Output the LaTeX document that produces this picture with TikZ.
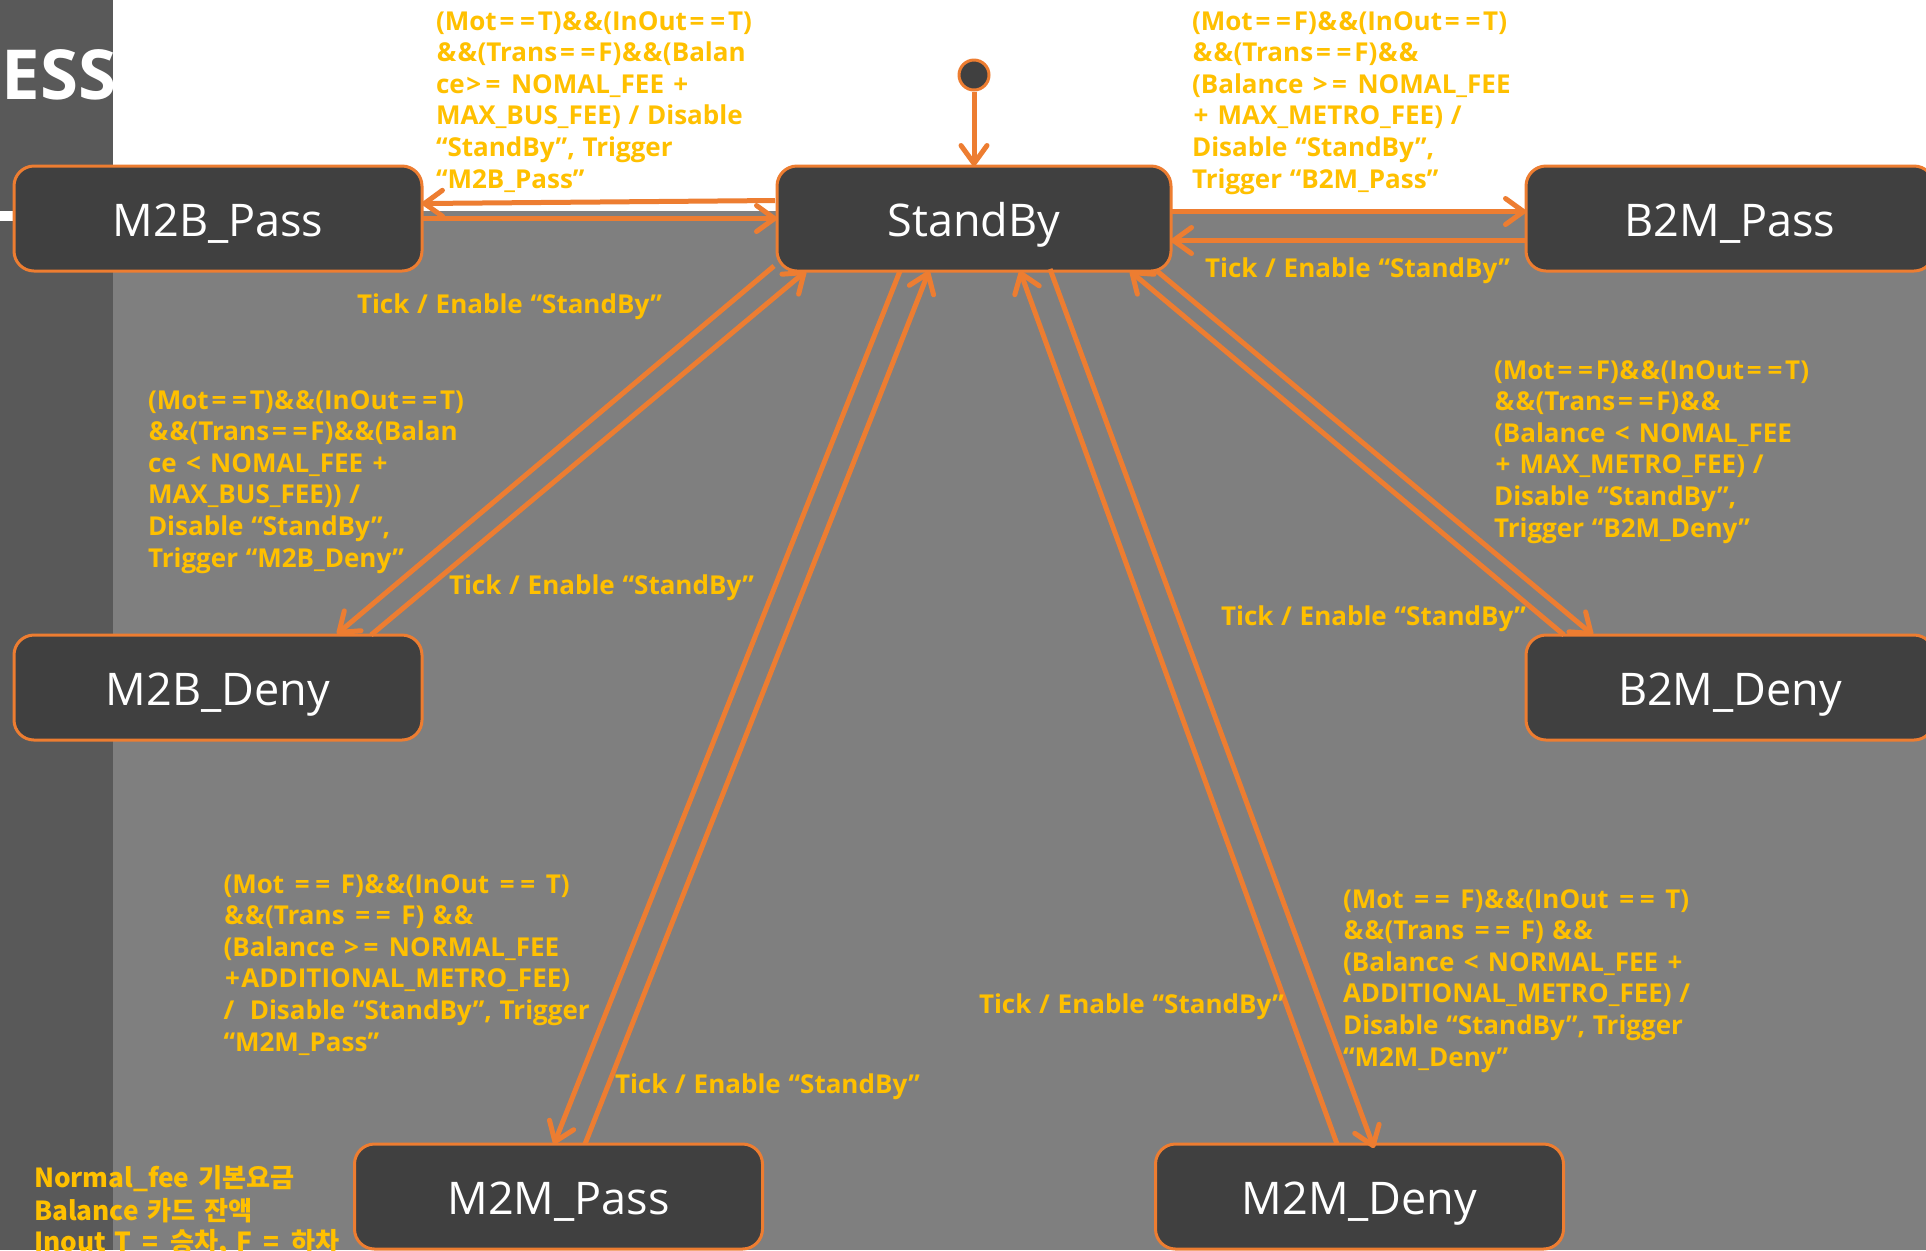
\documentclass[tikz,border=0pt]{standalone}
\usepackage{fontspec}
\setmainfont{Open Sans}
\newfontfamily\lblfont{Open Sans}[WordSpace=1.15]
\newfontfamily\krfont{Noto Sans CJK KR}[WordSpace=1.45]
\usetikzlibrary{arrows.meta,calc}
\definecolor{bggray}{HTML}{7F7F7F}
\definecolor{stripgray}{HTML}{595959}
\definecolor{boxfill}{HTML}{404040}
\definecolor{orng}{HTML}{ED7D31}
\definecolor{ylw}{HTML}{FFC000}
\newcommand\eq{\kern0.11em=\kern0.11em}
\newcommand\am{\kern0.03em\&\kern0.02em}
\newcommand\gtr{\kern0.06em>\kern0.06em}
\newcommand\lsr{\kern0.06em<\kern0.06em}
\newcommand\pls{\kern0.06em+\kern0.06em}
\begin{document}
\begin{tikzpicture}[x=0.5pt,y=-0.5pt,
  state/.style={draw=orng, fill=boxfill, line width=1.5pt, rounded corners=10pt,
    minimum width=204pt, minimum height=52.5pt, inner sep=0pt, outer sep=0pt,
    text=white, font=\fontsize{22.5}{26}\selectfont, text height=17.8pt, text depth=0pt},
  trans/.style={draw=orng, line width=2.5pt, -{Straight Barb[length=9pt,width=13pt,round]}},
  lbl/.style={text=ylw, font=\lblfont\fontsize{13}{15.8}\selectfont\bfseries, align=left,
    anchor=north west, inner sep=0pt, outer sep=0pt},
]
% backgrounds
\fill[white] (0,0) rectangle (1926,1250);
\fill[bggray] (113,211) rectangle (1926,1250);
\fill[stripgray] (0,0) rectangle (113,1250);
\fill[white] (0,211) rectangle (20,221);
\useasboundingbox (0,0) rectangle (1926,1250);

\node[text=white, font=\fontsize{34.5}{40}\selectfont\bfseries, anchor=base west, inner sep=0pt] (title) at (1,99) {ESS};

% states
\node[state] (m2bp) at (218,218.5) {M2B\_Pass};
\node[state, minimum width=197pt] (sb) at (974,218.5) {StandBy};
\node[state] (b2mp) at (1730,218.5) {B2M\_Pass};
\node[state] (m2bd) at (218,687.5) {M2B\_Deny};
\node[state] (b2md) at (1730,687.5) {B2M\_Deny};
\node[state] (m2mp) at (558.5,1196.5) {M2M\_Pass};
\node[state] (m2md) at (1359.5,1196.5) {M2M\_Deny};
\node[circle, draw=orng, fill=boxfill, line width=1.5pt, minimum size=15pt, inner sep=0pt] (init) at (974,75) {};

% connectors
\draw[trans] (init) -- (sb);
\draw[trans] ($(sb.west)+(-2,-18)$) -- ($(m2bp.east)+(0,-15)$);
\draw[trans] (m2bp.east) -- (sb.west);
\draw[trans] ($(sb.east)+(0,-7)$) -- ($(b2mp.west)+(0,-7)$);
\draw[trans] ($(b2mp.west)+(0,22)$) -- ($(sb.east)+(0,22)$);
\draw[trans] ($(sb.south)+(-200,-5)$) -- ($(m2bd.north)+(119,-1)$);
\draw[trans] ($(m2bd.north)+(153,0)$) -- ($(sb.south)+(-168,0)$);
\draw[trans] ($(sb.south)+(-74,0)$) -- ($(m2mp.north)+(-4.5,0)$);
\draw[trans] ($(m2mp.north)+(26.5,0)$) -- ($(sb.south)+(-45,0)$);
\draw[trans] ($(m2md.north)+(-22.5,0)$) -- ($(sb.south)+(46,0)$);
\draw[trans] ($(sb.south)+(76,-2)$) -- ($(m2md.north)+(14.5,4)$);
\draw[trans] ($(b2md.north)+(-166,0)$) -- ($(sb.south)+(156,0)$);
\draw[trans] ($(sb.south)+(183,0)$) -- ($(b2md.north)+(-137,0)$);

% labels
\node[lbl] (l1) at (436,7.9) {\strut(Mot\eq\eq T)\am\am(InOut\eq\eq T)\\\am\am(Trans\eq\eq F)\am\am(Balan\\ce\gtr\eq{} NOMAL\_FEE \pls\\MAX\_BUS\_FEE) / Disable\\“StandBy”, Trigger\\“M2B\_Pass”};
\node[lbl] (l2) at (1192,7.9) {\strut(Mot\eq\eq F)\am\am(InOut\eq\eq T)\\\am\am(Trans\eq\eq F)\am\am\\(Balance \gtr\eq{} NOMAL\_FEE\\\pls{} MAX\_METRO\_FEE) /\\Disable “StandBy”,\\Trigger “B2M\_Pass”};
\node[lbl] (l3) at (148,386.9) {\strut(Mot\eq\eq T)\am\am(InOut\eq\eq T)\\\am\am(Trans\eq\eq F)\am\am(Balan\\ce \lsr{} NOMAL\_FEE \pls\\MAX\_BUS\_FEE)) /\\Disable “StandBy”,\\Trigger “M2B\_Deny”};
\node[lbl] (l4) at (1494,356.9) {\strut(Mot\eq\eq F)\am\am(InOut\eq\eq T)\\\am\am(Trans\eq\eq F)\am\am\\(Balance \lsr{} NOMAL\_FEE\\\pls{} MAX\_METRO\_FEE) /\\Disable “StandBy”,\\Trigger “B2M\_Deny”};
\node[lbl] (l5) at (223.5,870.9) {\strut(Mot \eq\eq{} F)\am\am(InOut \eq\eq{} T)\\\am\am(Trans \eq\eq{} F) \am\am\\(Balance \gtr\eq{} NORMAL\_FEE\\\pls ADDITIONAL\_METRO\_FEE)\\/\ \ Disable “StandBy”, Trigger\\“M2M\_Pass”};
\node[lbl] (l6) at (1343,885.9) {\strut(Mot \eq\eq{} F)\am\am(InOut \eq\eq{} T)\\\am\am(Trans \eq\eq{} F) \am\am\\(Balance \lsr{} NORMAL\_FEE \pls\\ADDITIONAL\_METRO\_FEE) /\\Disable “StandBy”, Trigger\\“M2M\_Deny”};

\node[lbl] (t1) at (357,290.9) {\strut Tick / Enable “StandBy”};
\node[lbl] (t2) at (1205,254.9) {\strut Tick / Enable “StandBy”};
\node[lbl] (t3) at (449,571.9) {\strut Tick / Enable “StandBy”};
\node[lbl] (t4) at (1221,602.9) {\strut Tick / Enable “StandBy”};
\node[lbl] (t5) at (615,1070.9) {\strut Tick / Enable “StandBy”};
\node[lbl] (t6) at (979,990.9) {\strut Tick / Enable “StandBy”};

\node[lbl, font=\krfont\bfseries\fontsize{13.1}{15.5}\selectfont] (note) at (34,1165.3) {\strut Normal\_fee 기본요금\\Balance 카드 잔액\\Inout T \eq{} 승차, F \eq{} 하차};
\end{tikzpicture}
\end{document}
